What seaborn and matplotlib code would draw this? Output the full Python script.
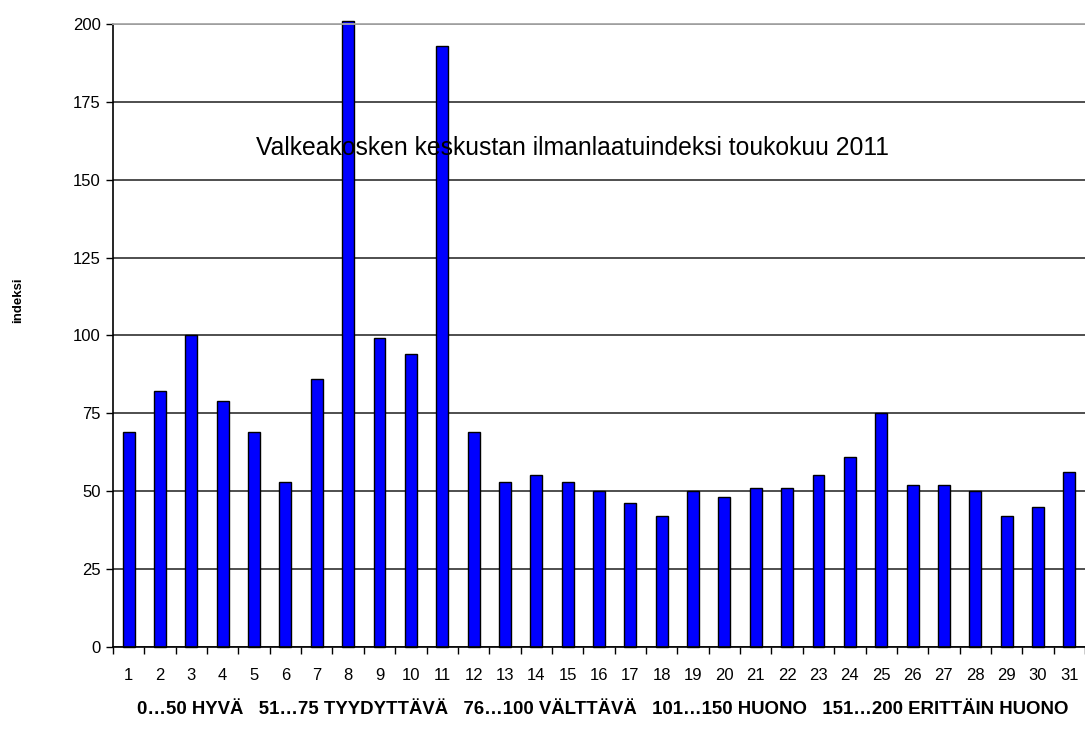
import matplotlib
matplotlib.use("Agg")
import matplotlib.pyplot as plt
import matplotlib.ticker as mticker
import seaborn as sns
import pandas as pd
import numpy as np

days = [str(d) for d in range(1, 32)]
values = [69, 82, 100, 79, 69, 53, 86, 201, 99, 94, 193, 69, 53, 55, 53, 50,
          46, 42, 50, 48, 51, 51, 55, 61, 75, 52, 52, 50, 42, 45, 56]
y_ticks = [0, 25, 50, 75, 100, 125, 150, 175, 200]

title = "Valkeakosken keskustan ilmanlaatuindeksi toukokuu 2011"
xlabel = "0…50 HYVÄ   51…75 TYYDYTTÄVÄ   76…100 VÄLTTÄVÄ   101…150 HUONO   151…200 ERITTÄIN HUONO"
ylabel = "indeksi"

df = pd.DataFrame({"day": days, "value": values})

sns.set_theme(style="white")
plt.rcParams["font.family"] = ["Liberation Sans", "DejaVu Sans"]
plt.rcParams["text.color"] = "black"
plt.rcParams["axes.labelcolor"] = "black"

fig = plt.figure(figsize=(10.85, 7.33), dpi=100)
ax = fig.add_axes([113 / 1085, 1 - 646.7 / 733, 1 - 113 / 1085, (646.7 - 24) / 733])

sns.barplot(data=df, x="day", y="value", color="#0000FF", saturation=1,
            width=0.38, edgecolor="black", linewidth=1.0, ax=ax, order=days)
for p in ax.patches:
    p.set_clip_on(False)

ax.set_ylim(0, 200)
ax.set_xlim(-0.5, len(days) - 0.5)
ax.set_yticks(y_ticks)
ax.set_yticklabels([str(t) for t in y_ticks], fontsize=12)
ax.tick_params(axis="y", which="major", length=5, width=1, color="black",
               direction="out", left=True, pad=4, labelcolor="black")
ax.tick_params(axis="x", which="major", length=0, pad=15, labelsize=12, labelcolor="black")
ax.xaxis.set_minor_locator(mticker.FixedLocator(np.arange(-0.5, len(days), 1.0)))
ax.tick_params(axis="x", which="minor", length=5, width=1, color="black",
               direction="out", bottom=True)

ax.set_axisbelow(True)
ax.yaxis.grid(True, color="#404040", linewidth=1.3)
ax.xaxis.grid(False)

for s in ["left", "bottom"]:
    ax.spines[s].set_visible(True)
    ax.spines[s].set_color("black")
    ax.spines[s].set_linewidth(1.2)
ax.spines["top"].set_visible(True)
ax.spines["top"].set_color("#a8a8a8")
ax.spines["top"].set_linewidth(1.3)
ax.spines["right"].set_visible(False)

ax.set_xlabel("")
ax.set_ylabel("")
fig.text(603 / 1085, 1 - 710 / 733, xlabel, fontsize=13.4, fontweight="bold",
         ha="center", va="center", color="black")
fig.text(18 / 1085, 1 - 300 / 733, ylabel, rotation=90, fontsize=9.5,
         fontweight="bold", ha="center", va="center", color="black")

fig.text(573 / 1085, 1 - 148 / 733, title, fontsize=17.8, ha="center", va="center",
         color="black")

fig.savefig("out.png", dpi=100, facecolor="white")
